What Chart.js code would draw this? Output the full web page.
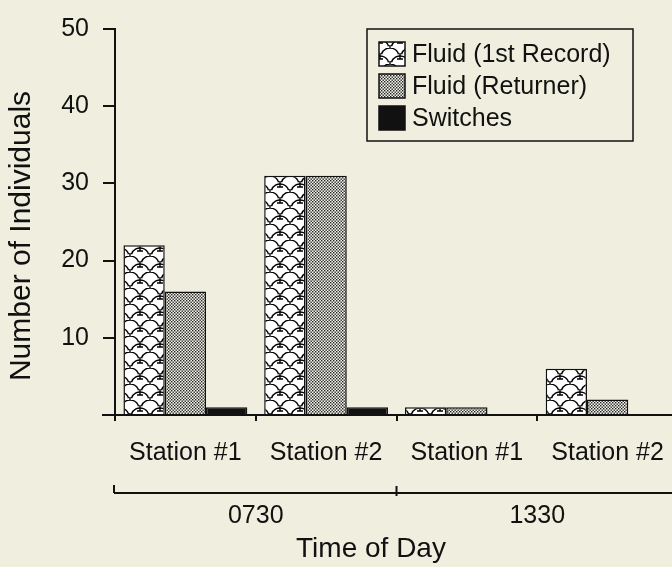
<!DOCTYPE html>
<html>
<head>
<meta charset="utf-8">
<script src="https://cdn.jsdelivr.net/npm/chart.js@4.4.1/dist/chart.umd.min.js"></script>
<style>
  html, body { margin: 0; padding: 0; background: #f0efdf; overflow: hidden; }
  #wrap { width: 684px; height: 567px; }
</style>
</head>
<body>
<div id="wrap"><canvas id="grafica"></canvas></div>
<script>
// Datos de la figura
const estaciones = ['Station #1', 'Station #2', 'Station #1', 'Station #2'];
const horas = ['0730', '1330'];
const fluidoPrimero = [22, 31, 1, 6];
const fluidoRetorno = [16, 31, 1, 2];
const cambios = [1, 1, 0, 0];
const ticksY = [0, 10, 20, 30, 40, 50];

const FONDO = '#f0efdf';
const TINTA = '#111111';
const FUENTE = '"Liberation Sans", Arial, Helvetica, sans-serif';

// Patron de escamas (Fluid 1st Record)
function patronEscamas() {
    const c = document.createElement('canvas');
    c.width = 20; c.height = 16;
    const g = c.getContext('2d');
    g.fillStyle = '#ffffff';
    g.fillRect(0, 0, 20, 16);
    g.strokeStyle = '#000';
    g.lineWidth = 1.4;
    [[0, 0], [10, 8]].forEach(([ox, oy]) => {
        for (let k = -1; k <= 1; k++) {
            const x0 = k * 20 + ox;
            g.beginPath();
            g.arc(x0 + 10, oy + 9, 9, Math.PI * 1.1, Math.PI * 1.9);
            g.stroke();
            // T en la union
            g.beginPath();
            g.moveTo(x0, oy + 5);
            g.lineTo(x0, oy + 11);
            g.moveTo(x0 - 3, oy + 11);
            g.lineTo(x0 + 3, oy + 11);
            g.stroke();
        }
    });
    return g.createPattern(c, 'repeat');
}

// Patron punteado (Fluid Returner)
function patronPuntos() {
    const c = document.createElement('canvas');
    c.width = 3; c.height = 3;
    const g = c.getContext('2d');
    g.fillStyle = '#f4f4ec';
    g.fillRect(0, 0, 3, 3);
    g.fillStyle = '#222';
    g.fillRect(0, 0, 1.4, 1.4);
    g.fillRect(1.5, 1.5, 1.4, 1.4);
    return g.createPattern(c, 'repeat');
}

const pEscamas = patronEscamas();
const pPuntos = patronPuntos();

// Leyenda con marco, titulo vertical y llaves de hora bajo el eje
const pluginExtras = {
    id: 'extras',
    afterDraw(chart) {
        const ctx = chart.ctx;
        const area = chart.chartArea;
        const x = chart.scales.x;
        ctx.save();

        // prolongacion de ejes
        ctx.strokeStyle = TINTA;
        ctx.lineWidth = 2;
        ctx.beginPath();
        ctx.moveTo(102, area.bottom);
        ctx.lineTo(area.left, area.bottom);
        ctx.moveTo(area.left, area.bottom);
        ctx.lineTo(area.left, area.bottom + 6);
        ctx.stroke();

        // leyenda
        ctx.fillStyle = FONDO;
        ctx.fillRect(367, 29, 266, 112);
        ctx.strokeStyle = TINTA;
        ctx.lineWidth = 1.5;
        ctx.strokeRect(367, 29, 266, 112);
        ctx.font = '25px ' + FUENTE;
        ctx.textBaseline = 'middle';
        ctx.textAlign = 'left';
        chart.data.datasets.forEach((ds, i) => {
            const cy = 54 + i * 32;
            ctx.fillStyle = ds.backgroundColor;
            ctx.fillRect(379, cy - 12, 26, 24);
            ctx.strokeStyle = TINTA;
            ctx.lineWidth = 1.5;
            ctx.strokeRect(379, cy - 12, 26, 24);
            ctx.fillStyle = TINTA;
            ctx.fillText(ds.label, 412, cy + 1);
        });

        // titulo del eje Y
        ctx.save();
        ctx.translate(22, 236);
        ctx.rotate(-Math.PI / 2);
        ctx.textAlign = 'center';
        ctx.font = '30px ' + FUENTE;
        ctx.fillText('Number of Individuals', 0, 0);
        ctx.restore();

        // llave de grupos horarios
        const yLinea = 493;
        const medio = x.getPixelForValue(1.5);
        ctx.strokeStyle = TINTA;
        ctx.lineWidth = 2;
        ctx.beginPath();
        ctx.moveTo(area.left - 1, yLinea);
        ctx.lineTo(chart.width, yLinea);
        ctx.moveTo(area.left - 1, yLinea - 8);
        ctx.lineTo(area.left - 1, yLinea);
        ctx.moveTo(medio, yLinea - 7);
        ctx.lineTo(medio, yLinea + 3);
        ctx.stroke();

        ctx.fillStyle = TINTA;
        ctx.textAlign = 'center';
        ctx.font = '25px ' + FUENTE;
        horas.forEach((h, i) => {
            const cx = (x.getPixelForValue(i * 2) + x.getPixelForValue(i * 2 + 1)) / 2;
            ctx.fillText(h, cx, 516);
        });

        ctx.font = '28px ' + FUENTE;
        ctx.fillText('Time of Day', 371, 549);
        ctx.restore();
    }
};

const ctx = document.getElementById('grafica').getContext('2d');
new Chart(ctx, {
    type: 'bar',
    data: {
        labels: estaciones,
        datasets: [
            {
                label: 'Fluid (1st Record)',
                data: fluidoPrimero,
                backgroundColor: pEscamas,
                borderColor: TINTA,
                borderWidth: 1.5
            },
            {
                label: 'Fluid (Returner)',
                data: fluidoRetorno,
                backgroundColor: pPuntos,
                borderColor: TINTA,
                borderWidth: 1.5
            },
            {
                label: 'Switches',
                data: cambios,
                backgroundColor: TINTA,
                borderColor: TINTA,
                borderWidth: 1.5
            }
        ]
    },
    options: {
        responsive: true,
        maintainAspectRatio: false,
        animation: false,
        devicePixelRatio: 1,
        categoryPercentage: 0.88,
        barPercentage: 1.0,
        layout: { padding: { left: 0, right: 6, top: 22, bottom: 0 } },
        plugins: {
            legend: { display: false },
            tooltip: { enabled: false }
        },
        scales: {
            x: {
                offset: true,
                afterFit: function(scale) { scale.height = 152; },
                grid: {
                    offset: true,
                    drawOnChartArea: false,
                    color: TINTA,
                    lineWidth: 2,
                    tickLength: 6
                },
                border: { color: TINTA, width: 2 },
                ticks: {
                    color: TINTA,
                    padding: 17,
                    maxRotation: 0,
                    font: { family: FUENTE, size: 25 }
                }
            },
            y: {
                min: ticksY[0],
                max: ticksY[ticksY.length - 1],
                afterFit: function(scale) { scale.width = 115; },
                afterBuildTicks: function(scale) {
                    scale.ticks = ticksY.map(v => ({ value: v }));
                },
                grid: {
                    drawOnChartArea: false,
                    color: TINTA,
                    lineWidth: 2,
                    tickLength: 12
                },
                border: { color: TINTA, width: 2 },
                ticks: {
                    color: TINTA,
                    padding: 14,
                    font: { family: FUENTE, size: 25 },
                    callback: function(v) { return v === 0 ? '' : v; }
                }
            }
        }
    },
    plugins: [pluginExtras]
});
</script>
</body>
</html>
